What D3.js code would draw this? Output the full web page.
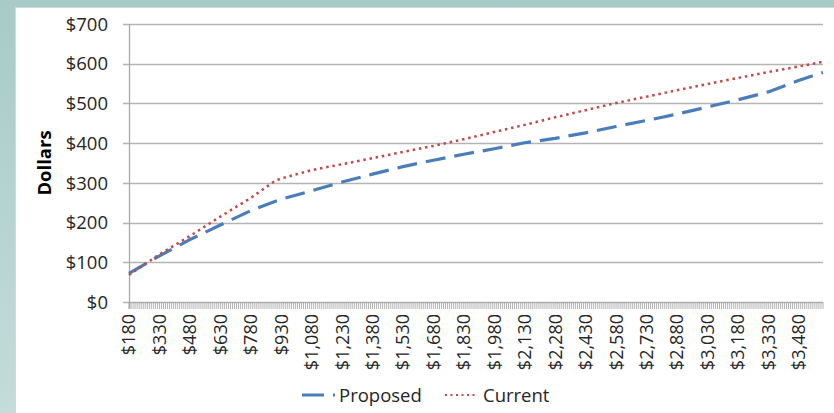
<!DOCTYPE html>
<html>
<head>
<meta charset="utf-8">
<script src="https://cdn.jsdelivr.net/npm/d3@7"></script>
<style>
  html, body { margin: 0; padding: 0; }
  body { width: 834px; height: 413px; overflow: hidden; background: linear-gradient(#a7cbc8, #c4dcda); }
  svg { display: block; }
  text { font-family: "Open Sans", "DejaVu Sans", sans-serif; fill: #262626; }
</style>
</head>
<body>
<svg id="chart" width="834" height="413"></svg>
<script>
// Axis categories: monthly amounts from $180 to $3,600 in $10 steps
const categoryStart = 180, categoryEnd = 3600, categoryStep = 10;
const categories = d3.range(categoryStart, categoryEnd + 1, categoryStep);

// Labelled categories along the x axis
const xTickValues = [180, 330, 480, 630, 780, 930, 1080, 1230, 1380, 1530, 1680, 1830,
  1980, 2130, 2280, 2430, 2580, 2730, 2880, 3030, 3180, 3330, 3480];

// Y axis ticks (dollars)
const yTickValues = [0, 100, 200, 300, 400, 500, 600, 700];

// Proposed schedule
const proposedAt = [180, 330, 480, 630, 780, 930, 1080, 1230, 1380, 1530, 1680, 1830,
  1980, 2130, 2280, 2430, 2580, 2730, 2880, 3030, 3180, 3330, 3480, 3600];
const proposed = [72, 116, 157, 194, 230, 259, 280, 302, 322, 341, 357, 372,
  386, 401, 412, 426, 442, 457, 473, 491, 509, 529, 558, 578];

// Current schedule
const currentAt = [180, 330, 480, 630, 780, 900, 930, 1080, 1230, 1380, 1530, 1680, 1830,
  1980, 2130, 2280, 2430, 2580, 2730, 2880, 3030, 3180, 3330, 3480, 3600];
const current = [68, 120, 166, 215, 262, 305, 311, 332, 347, 362, 378, 393, 410,
  428, 446, 465, 483, 501, 517, 533, 549, 564, 579, 593, 605];

const seriesNames = ["Proposed", "Current"];
const seriesColors = ["#4a7ebb", "#be4b48"];

const svg = d3.select("#chart");

// White chart panel
svg.append("rect")
  .attr("x", 15.5).attr("y", 7.5)
  .attr("width", 830).attr("height", 420)
  .attr("fill", "#ffffff")
  .attr("stroke", "#d0d8d8");

const plot = { left: 129, right: 823, top: 24, bottom: 302 };

const x = d3.scalePoint().domain(categories).range([plot.left, plot.right]);
const y = d3.scaleLinear().domain([0, 700]).range([plot.bottom, plot.top]);

// Horizontal gridlines
svg.append("g")
  .selectAll("line")
  .data(yTickValues)
  .join("line")
  .attr("x1", plot.left - 6).attr("x2", plot.right)
  .attr("y1", d => Math.round(y(d)) + 0.5).attr("y2", d => Math.round(y(d)) + 0.5)
  .attr("stroke", "#b5b5b5").attr("stroke-width", 1.3);

// Category tick marks below the axis
svg.append("g")
  .selectAll("line")
  .data(categories)
  .join("line")
  .attr("x1", d => x(d)).attr("x2", d => x(d))
  .attr("y1", plot.bottom).attr("y2", plot.bottom + 7)
  .attr("stroke", "#a0a0a0").attr("stroke-width", 0.8);

// Vertical axis line
svg.append("line")
  .attr("x1", plot.left + 0.5).attr("x2", plot.left + 0.5)
  .attr("y1", plot.top).attr("y2", plot.bottom + 7)
  .attr("stroke", "#a8a8a8").attr("stroke-width", 1.3);

// Y tick labels
svg.append("g")
  .selectAll("text")
  .data(yTickValues)
  .join("text")
  .attr("x", 108)
  .attr("y", d => y(d))
  .attr("dy", "0.36em")
  .attr("text-anchor", "end")
  .style("font-size", "18.5px")
  .text(d => "$" + d3.format(",")(d));

// X tick labels, rotated
svg.append("g")
  .selectAll("text")
  .data(xTickValues)
  .join("text")
  .attr("transform", d => `translate(${x(d)},${plot.bottom + 12}) rotate(-90)`)
  .attr("dy", "0.36em")
  .attr("text-anchor", "end")
  .style("font-size", "18px")
  .text(d => "$" + d3.format(",")(d));

// Y axis title
svg.append("text")
  .attr("transform", `translate(44,${(plot.top + plot.bottom) / 2}) rotate(-90)`)
  .attr("dy", "0.36em")
  .attr("text-anchor", "middle")
  .style("font-size", "18.5px")
  .style("font-weight", "bold")
  .style("fill", "#000")
  .text("Dollars");

const line = d3.line().x(d => x(d[0])).y(d => y(d[1]));

// Proposed: long dashes
svg.append("path")
  .datum(d3.zip(proposedAt, proposed))
  .attr("d", line)
  .attr("fill", "none")
  .attr("stroke", seriesColors[0])
  .attr("stroke-width", 3.2)
  .attr("stroke-dasharray", "20,9");

// Current: square dots
svg.append("path")
  .datum(d3.zip(currentAt, current))
  .attr("d", line)
  .attr("fill", "none")
  .attr("stroke", seriesColors[1])
  .attr("stroke-width", 2.5)
  .attr("stroke-dasharray", "2.5,3.8");

// Legend
const legendY = 395;
svg.append("line")
  .attr("x1", 302).attr("x2", 335)
  .attr("y1", legendY).attr("y2", legendY)
  .attr("stroke", seriesColors[0]).attr("stroke-width", 3)
  .attr("stroke-dasharray", "22,9,2,20");
svg.append("text")
  .attr("x", 339).attr("y", legendY).attr("dy", "0.36em")
  .style("font-size", "18.5px")
  .text(seriesNames[0]);

svg.append("line")
  .attr("x1", 445).attr("x2", 478)
  .attr("y1", legendY).attr("y2", legendY)
  .attr("stroke", seriesColors[1]).attr("stroke-width", 2)
  .attr("stroke-dasharray", "2,3.5");
svg.append("text")
  .attr("x", 483).attr("y", legendY).attr("dy", "0.36em")
  .style("font-size", "18.5px")
  .text(seriesNames[1]);
</script>
</body>
</html>
